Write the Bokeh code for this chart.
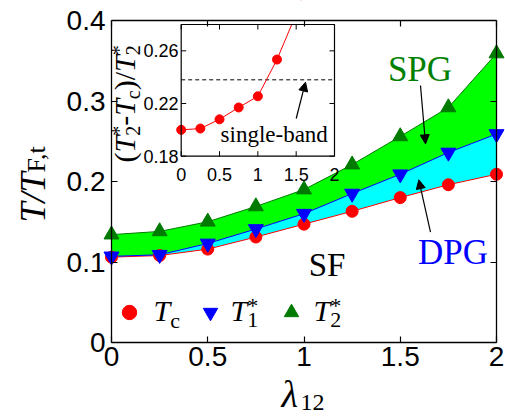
from math import pi
from bokeh.plotting import figure
from bokeh.models import (Range1d, LinearAxis, FixedTicker, Label, Arrow, NormalHead,
                          Legend, LegendItem)
from bokeh.core.properties import value
from bokeh.embed import file_html
from bokeh.resources import INLINE

# ---------------- data ----------------
lam = [0.0, 0.25, 0.5, 0.75, 1.0, 1.25, 1.5, 1.75, 2.0]
Tc = [0.106, 0.108, 0.116, 0.131, 0.147, 0.163, 0.180, 0.196, 0.209]
T1s = [0.107, 0.109, 0.123, 0.141, 0.160, 0.185, 0.209, 0.236, 0.259]
T2s = [0.134, 0.138, 0.150, 0.169, 0.190, 0.221, 0.256, 0.292, 0.359]

inset_lam = [0.0, 0.25, 0.5, 0.75, 1.0, 1.25, 1.5, 1.75, 2.0]
inset_ratio = [0.200, 0.201, 0.208, 0.217, 0.2255, 0.2534, 0.288, 0.330, 0.420]
single_band = 0.238

x_ticks = [0.0, 0.5, 1.0, 1.5, 2.0]
x_tick_labels = ["0", "0.5", "1", "1.5", "2"]
y_ticks = [0.0, 0.1, 0.2, 0.3, 0.4]
y_tick_labels = ["0", "0.1", "0.2", "0.3", "0.4"]
inset_x_ticks = [0.0, 0.5, 1.0, 1.5, 2.0]
inset_x_tick_labels = ["0", "0.5", "1", "1.5", "2"]
inset_y_ticks = [0.18, 0.22, 0.26]
inset_y_tick_labels = ["0.18", "0.22", "0.26"]

X_RANGE = (0.0, 2.0)
Y_RANGE = (0.0, 0.4)
INSET_X = (0.0, 2.0)
INSET_Y = (0.18, 0.28)

# ---------------- geometry (page pixels) ----------------
FL, FR, FT, FB = 111, 496, 20, 342          # main axes box
IL, IR, IT, IB = 180.7, 334.0, 24.0, 155.7  # inset box
W, H = 505, 420
BASE_FIX = 0.28  # label anchor correction (fraction of font size)


def X(px):
    return X_RANGE[0] + (px - FL) / (FR - FL) * (X_RANGE[1] - X_RANGE[0])


def Y(py):
    return Y_RANGE[0] + (FB - py) / (FB - FT) * (Y_RANGE[1] - Y_RANGE[0])


def IX(px):
    return INSET_X[0] + (px - IL) / (IR - IL) * (INSET_X[1] - INSET_X[0])


def IY(py):
    return INSET_Y[0] + (IB - py) / (IB - IT) * (INSET_Y[1] - INSET_Y[0])


# the frame covers the whole canvas; the axes are pinned to the data box
p = figure(width=W, height=H, x_range=Range1d(X(0), X(W)), y_range=Range1d(Y(H), Y(0)),
           output_backend="svg", toolbar_location=None,
           min_border_left=0, min_border_right=0, min_border_top=0, min_border_bottom=0)
p.xgrid.visible = False
p.ygrid.visible = False
p.outline_line_color = None
p.background_fill_color = "white"
p.border_fill_color = "white"


def style_axis(ax, ticks, labels, show, loc, bounds):
    ax.fixed_location = loc
    ax.bounds = bounds
    ax.ticker = FixedTicker(ticks=ticks)
    ax.major_tick_in = 6
    ax.major_tick_out = 0
    ax.minor_tick_in = 0
    ax.minor_tick_out = 0
    ax.axis_line_width = 1.3
    ax.major_tick_line_width = 1.2
    ax.major_label_text_font = "Liberation Sans"
    ax.major_label_text_color = "black"
    if show:
        ax.major_label_overrides = {float(t): s for t, s in zip(ticks, labels)}
        ax.major_label_text_font_size = "28px"
    else:
        ax.major_label_overrides = {float(t): "" for t in ticks}
        ax.major_label_text_font_size = "0px"
        ax.major_label_standoff = 0


style_axis(p.xaxis[0], x_ticks, x_tick_labels, True, Y_RANGE[0], X_RANGE)
p.xaxis[0].major_label_standoff = 4
style_axis(p.yaxis[0], y_ticks, y_tick_labels, True, X_RANGE[0], Y_RANGE)
p.yaxis[0].major_label_standoff = 6
top_ax = LinearAxis()
style_axis(top_ax, x_ticks, x_tick_labels, False, Y_RANGE[1], X_RANGE)
p.add_layout(top_ax, "above")
right_ax = LinearAxis()
style_axis(right_ax, y_ticks, y_tick_labels, False, X_RANGE[1], Y_RANGE)
p.add_layout(right_ax, "right")

# ---------------- main data ----------------
p.varea(x=lam, y1=Tc, y2=T1s, fill_color="#00ffff")
p.varea(x=lam, y1=T1s, y2=T2s, fill_color="#00ff00")
p.line(lam, Tc, line_color="#ff0000", line_width=1)
p.line(lam, T1s, line_color="#0000ff", line_width=1)
p.line(lam, T2s, line_color="#007a00", line_width=1)
r_tc = p.scatter(lam, Tc, marker="circle", size=12, fill_color="#ff0000", line_color="#ff0000")
r_t1 = p.scatter(lam, T1s, marker="inverted_triangle", size=15, fill_color="#0000ff", line_color="#0000ff")
r_t2 = p.scatter(lam, T2s, marker="triangle", size=15, fill_color="#007a00", line_color="#007a00")

# ---------------- inset ----------------
p.extra_x_ranges = {"ix": Range1d(IX(0), IX(W))}
p.extra_y_ranges = {"iy": Range1d(IY(H), IY(0))}
kw = dict(x_range_name="ix", y_range_name="iy")
p.quad(left=[INSET_X[0]], right=[INSET_X[1]], bottom=[INSET_Y[0]], top=[INSET_Y[1]],
       fill_color="white", line_color=None, **kw)
p.segment(x0=[INSET_X[0]], x1=[INSET_X[1]], y0=[single_band], y1=[single_band],
          line_color="black", line_width=1, line_dash="4 3", **kw)
p.line(inset_lam, inset_ratio, line_color="#ff0000", line_width=1, **kw)
p.scatter(inset_lam, inset_ratio, marker="circle", size=9, fill_color="#ff0000",
          line_color="#ff0000", **kw)
# mask the part of the inset curve that leaves the inset box
p.quad(left=[INSET_X[0]], right=[INSET_X[1]], bottom=[INSET_Y[1]], top=[IY(-10)],
       fill_color="white", line_color=None, **kw)
p.quad(left=[INSET_X[0]], right=[INSET_X[1]], bottom=[INSET_Y[0]], top=[INSET_Y[1]],
       fill_color=None, line_color="black", line_width=1.2, **kw)
tlx = 5 / (IB - IT) * (INSET_Y[1] - INSET_Y[0])
tly = 5 / (IR - IL) * (INSET_X[1] - INSET_X[0])
nx = len(inset_x_ticks)
ny = len(inset_y_ticks)
p.segment(x0=inset_x_ticks, x1=inset_x_ticks, y0=[INSET_Y[0]] * nx, y1=[INSET_Y[0] + tlx] * nx,
          line_color="black", line_width=1, **kw)
p.segment(x0=inset_x_ticks, x1=inset_x_ticks, y0=[INSET_Y[1]] * nx, y1=[INSET_Y[1] - tlx] * nx,
          line_color="black", line_width=1, **kw)
p.segment(x0=[INSET_X[0]] * ny, x1=[INSET_X[0] + tly] * ny, y0=inset_y_ticks, y1=inset_y_ticks,
          line_color="black", line_width=1, **kw)
p.segment(x0=[INSET_X[1]] * ny, x1=[INSET_X[1] - tly] * ny, y0=inset_y_ticks, y1=inset_y_ticks,
          line_color="black", line_width=1, **kw)
p.text(x=inset_x_ticks, y=[IY(173.5)] * nx, text=inset_x_tick_labels,
       text_font=value("Liberation Sans"), text_font_size=value("18px"),
       text_align="center", text_baseline="alphabetic", text_color="black", **kw)
p.text(x=[IX(178)] * ny, y=inset_y_ticks, text=inset_y_tick_labels,
       text_font=value("Liberation Sans"), text_font_size=value("18px"),
       text_align="right", text_baseline="middle", text_color="black", **kw)


# ---------------- text helpers ----------------
def label(px, py, txt, size, style="normal", color="black", align="left", vertical=False,
          font="Liberation Serif"):
    fix = BASE_FIX * size
    if vertical:
        px -= fix
    else:
        py -= fix
    p.add_layout(Label(x=X(px), y=Y(py), text=txt, angle=pi / 2 if vertical else 0,
                       text_font=font, text_font_style=style,
                       text_font_size=f"{size}px", text_align=align,
                       text_baseline="alphabetic", text_color=color))


EM = {"(": .333, ")": .333, "-": .333, "/": .278, " ": .25, "*": .5, "1": .5, "2": .5,
      "c": .444, "F": .556, ",": .25, "t": .278, "T": .556, "λ": .5}


def rich(x0, y0, pieces, vertical=False, color="black"):
    pos = 0.0
    for txt, size, style, shift, adv in pieces:
        if vertical:
            px, py = x0 + shift, y0 - pos
        else:
            px, py = x0 + pos, y0 + shift
        label(px, py, txt, size, style, color, vertical=vertical)
        if adv:
            pos += sum(EM.get(ch, .5) for ch in txt) * size


# main y label  T/T_{F,t}
rich(43, 222, [("T", 36, "italic", 0, True), ("/", 36, "italic", 0, True),
               ("T", 36, "italic", 0, True), ("F,t", 26, "normal", 0, True)], vertical=True)
# main x label  lambda_12
rich(281, 404, [("λ", 38, "italic", 0, True), ("12", 24, "normal", 5, True)])
# inset y label (T2* - Tc)/T2*
rich(132, 162, [("(", 30, "normal", 0, True), ("T", 30, "italic", 0, True),
                ("2", 20, "normal", 6, False), ("*", 20, "normal", -8, True),
                ("-", 30, "normal", 0, True), ("T", 30, "italic", 0, True),
                ("c", 20, "normal", 6, True), (")/", 30, "normal", 0, True),
                ("T", 30, "italic", 0, True), ("2", 20, "normal", 6, False),
                ("*", 20, "normal", -8, True)], vertical=True)
# legend texts
rich(153, 318, [("T", 30, "italic", 0, True), ("c", 22, "normal", 8, True)])
rich(230, 318, [("T", 30, "italic", 0, True), ("1", 22, "normal", 8, False),
                ("*", 22, "normal", -7, True)])
rich(313, 318, [("T", 30, "italic", 0, True), ("2", 22, "normal", 8, False),
                ("*", 22, "normal", -7, True)])

legend = Legend(items=[LegendItem(label=" ", renderers=[r_tc]),
                       LegendItem(label=" ", renderers=[r_t1]),
                       LegendItem(label=" ", renderers=[r_t2])],
                orientation="horizontal", location=(FL, H - FB + 12), glyph_width=36, glyph_height=36,
                label_width=40, label_standoff=0, spacing=5, padding=0, margin=0,
                label_text_font_size="8px", border_line_alpha=0, background_fill_alpha=0)
p.add_layout(legend)

# region labels
label(419.5, 78.3, "SPG", 35, color="#008000", align="center")
label(452.5, 261.7, "DPG", 35, color="#0000ff", align="center")
label(326.5, 274, "SF", 33, align="center")
label(273.7, 140.7, "single-band", 23, align="center")

# arrows
for (xs, ys, xe, ye) in [(420, 85, 425, 143.3), (430, 231.7, 418.3, 179.3), (295.7, 118, 305, 81.7)]:
    p.add_layout(Arrow(end=NormalHead(size=9, fill_color="black", line_color="black"),
                       x_start=X(xs), y_start=Y(ys), x_end=X(xe), y_end=Y(ye),
                       line_color="black", line_width=1.2))

open("out.html", "w").write(file_html(p, INLINE))
